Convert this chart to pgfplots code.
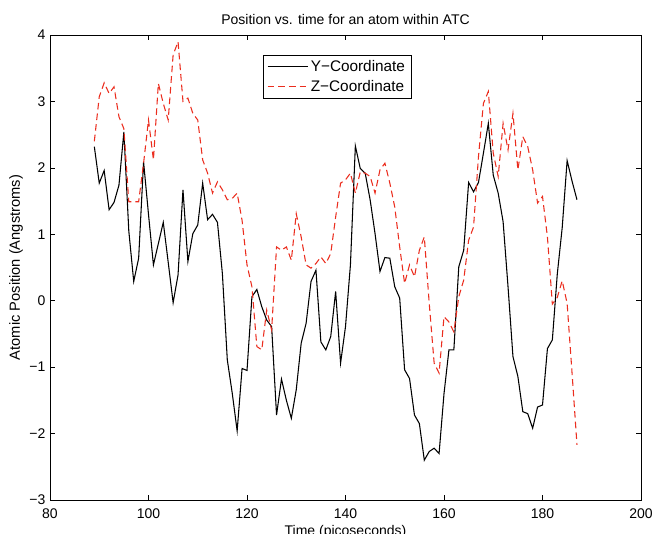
\documentclass[border=0pt]{standalone}
\usepackage{fontspec}
\setmainfont{Liberation Sans}
\usepackage{pgfplots}
\usepackage{pgfplotstable}
\pgfplotsset{compat=1.18}
\definecolor{mred}{RGB}{235,45,30}
\pgfplotstableread{
t y
89 2.32
90 1.77
91 1.96
92 1.37
93 1.48
94 1.74
95 2.54
96 1.05
97 0.29
98 0.64
99 2.09
100 1.30
101 0.54
102 0.86
103 1.18
104 0.58
105 -0.03
106 0.39
107 1.67
108 0.59
109 1.01
110 1.14
111 1.77
112 1.22
113 1.30
114 1.18
115 0.41
116 -0.89
117 -1.39
118 -1.96
119 -1.02
120 -1.05
121 0.06
122 0.17
123 -0.09
124 -0.29
125 -0.39
126 -1.72
127 -1.18
128 -1.50
129 -1.77
130 -1.34
131 -0.64
132 -0.34
133 0.29
134 0.46
135 -0.62
136 -0.74
137 -0.54
138 0.14
139 -0.94
140 -0.39
141 0.54
142 2.33
143 1.99
144 1.92
145 1.52
146 1.01
147 0.44
148 0.65
149 0.64
150 0.21
151 0.04
152 -1.04
153 -1.17
154 -1.72
155 -1.85
156 -2.40
157 -2.27
158 -2.22
159 -2.30
160 -1.40
161 -0.74
162 -0.74
163 0.51
164 0.76
165 1.78
166 1.64
167 1.78
168 2.22
169 2.67
170 1.89
171 1.62
172 1.19
173 0.21
174 -0.84
175 -1.14
176 -1.67
177 -1.70
178 -1.92
179 -1.60
180 -1.57
181 -0.72
182 -0.59
183 0.40
184 1.10
185 2.11
186 1.80
187 1.52
}\ycoord
\pgfplotstableread{
t z
89 2.40
90 3.07
91 3.28
92 3.12
93 3.22
94 2.77
95 2.59
96 1.49
97 1.49
98 1.49
99 2.07
100 2.72
101 2.12
102 3.27
103 2.97
104 2.72
105 3.70
106 3.90
107 3.00
108 3.05
109 2.82
110 2.72
111 2.12
112 1.92
113 1.62
114 1.79
115 1.67
116 1.52
117 1.54
118 1.62
119 1.21
120 0.54
121 0.21
122 -0.69
123 -0.74
124 -0.14
125 -0.44
126 0.81
127 0.76
128 0.81
129 0.61
130 1.31
131 0.96
132 0.54
133 0.49
134 0.56
135 0.66
136 0.56
137 0.71
138 1.26
139 1.77
140 1.82
141 1.92
142 1.62
143 1.94
144 1.92
145 1.87
146 1.62
147 1.97
148 2.07
149 1.77
150 1.41
151 0.81
152 0.26
153 0.54
154 0.36
155 0.76
156 0.96
157 -0.04
158 -0.94
159 -1.09
160 -0.24
161 -0.32
162 -0.47
163 0.06
164 0.31
165 0.91
166 1.11
167 2.17
168 2.97
169 3.15
170 2.22
171 1.87
172 2.67
173 2.27
174 2.82
175 1.97
176 2.47
177 2.32
178 1.97
179 1.47
180 1.57
181 0.96
182 -0.05
183 0.05
184 0.30
185 -0.04
186 -1.09
187 -2.17
}\zcoord
\begin{document}
\begin{tikzpicture}[font=\fontsize{10.5}{12}\selectfont]
\path[use as bounding box] (-37.5pt,-24.75pt) rectangle (451.5pt,375pt);
\begin{axis}[
  scale only axis,
  width=443.25pt, height=348.75pt,
  xmin=80, xmax=200, ymin=-3, ymax=4,
  xtick={80,100,...,200},
  ytick={-3,-2,...,4},
  yticklabels={−3,−2,−1,0,1,2,3,4},
  /pgf/number format/assume math mode=true,
  tick align=inside,
  major tick length=3.5pt,
  tick style={black, line width=0.5pt},
  axis line style={black, line width=0.6pt},
  xticklabel style={yshift=-3pt},
  title={Position vs. time for an atom within ATC},
  title style={yshift=-2pt},
  xlabel={Time (picoseconds)},
  ylabel={Atomic Position (Angstroms)},
  xlabel style={yshift=1.5pt},
  ylabel style={yshift=-2pt, font=\fontsize{11}{13}\selectfont},
  legend style={at={(0.36,0.958)}, anchor=north west, draw=black, line width=0.5pt,
    font=\fontsize{11.5}{13}\selectfont, row sep=1pt, inner xsep=3pt, inner ysep=2pt},
  legend cell align=left,
  legend image code/.code={\draw[#1] (0pt,0pt) -- (30pt,0pt);},
]
\addplot[black, line width=0.8pt] table[x=t, y=y] {\ycoord};
\addlegendentry{Y−Coordinate}
\addplot[mred, line width=0.8pt, dash pattern=on 5pt off 3pt] table[x=t, y=z] {\zcoord};
\addlegendentry{Z−Coordinate}
\end{axis}
\end{tikzpicture}
\end{document}
